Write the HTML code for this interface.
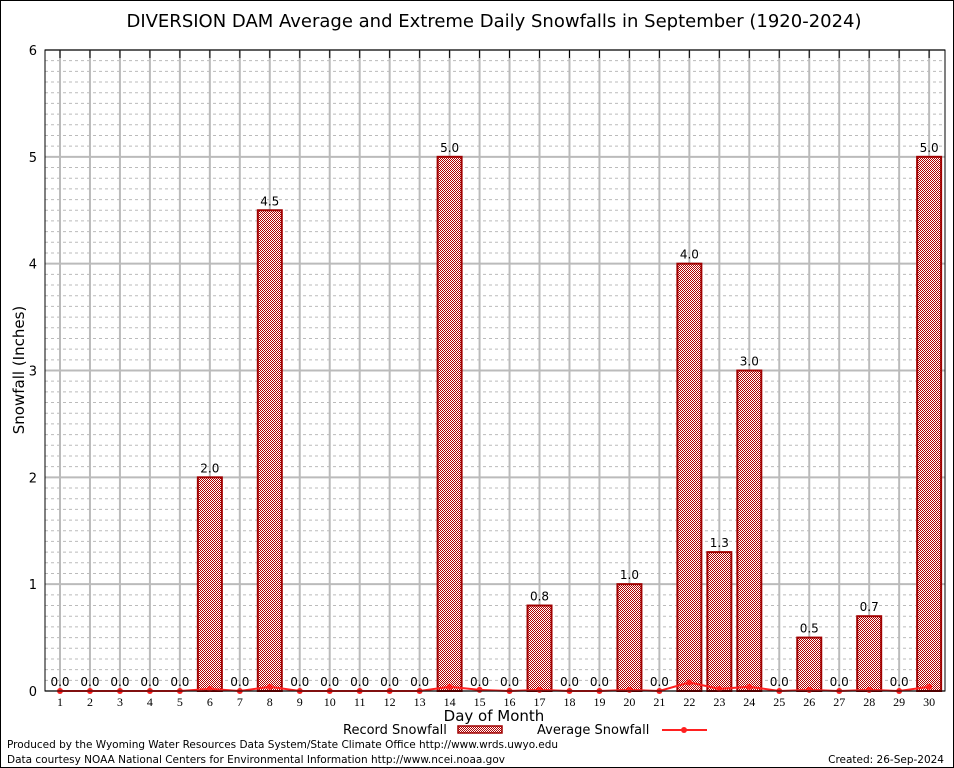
<!DOCTYPE html>
<html><head><meta charset="utf-8"><style>
body{margin:0;background:#fff;}
svg{display:block;font-family:"DejaVu Sans","Liberation Sans",sans-serif;}
</style></head><body>
<svg id="chart" width="954" height="768">
<defs>
<pattern id="chk" width="2" height="2" patternUnits="userSpaceOnUse">
<rect width="2" height="2" fill="#ffffff"/><rect width="1" height="1" fill="#b00000"/><rect x="1" y="1" width="1" height="1" fill="#b00000"/>
</pattern>
</defs>
<rect x="0.5" y="0.5" width="953" height="767" fill="#fff" stroke="#000"/>
<text x="494" y="27" font-size="18" text-anchor="middle">DIVERSION DAM Average and Extreme Daily Snowfalls in September (1920-2024)</text>
<g id="grid"></g>
<g id="bars"></g>
<g id="avg"></g>
<g id="axes"></g>
<text x="24" y="370" font-size="15" text-anchor="middle" transform="rotate(-90 24 370)">Snowfall (Inches)</text>
<text x="494" y="721" font-size="15" text-anchor="middle">Day of Month</text>
<g>
<text x="343" y="734" font-size="13">Record Snowfall</text>
<rect x="458" y="726" width="44" height="7" fill="url(#chk)" stroke="#a00000" stroke-width="1.5"/>
<text x="537" y="734" font-size="13">Average Snowfall</text>
<line x1="662" y1="730" x2="707" y2="730" stroke="#ff2020" stroke-width="2"/>
<circle cx="684" cy="730" r="3" fill="#ff2020"/>
</g>
<text x="7" y="748" font-size="10.5" textLength="551">Produced by the Wyoming Water Resources Data System/State Climate Office http://www.wrds.uwyo.edu</text>
<text x="7" y="763" font-size="10.5" textLength="498">Data courtesy NOAA National Centers for Environmental Information http://www.ncei.noaa.gov</text>
<text x="944" y="763" font-size="10.5" text-anchor="end">Created: 26-Sep-2024</text>
</svg>
<script>
const days=[1,2,3,4,5,6,7,8,9,10,11,12,13,14,15,16,17,18,19,20,21,22,23,24,25,26,27,28,29,30];
const records=[0,0,0,0,0,2.0,0,4.5,0,0,0,0,0,5.0,0,0,0.8,0,0,1.0,0,4.0,1.3,3.0,0,0.5,0,0.7,0,5.0];
const averages=[0,0,0,0,0,0.02,0,0.04,0,0,0,0,0,0.04,0.01,0,0.01,0,0,0.01,0,0.08,0.02,0.04,0,0.01,0,0.01,0,0.04];
const yTicks=[0,1,2,3,4,5,6];
const NS="http://www.w3.org/2000/svg";
const L=45,R=945,T=50,B=691;
const x=d=>60+(d-1)*29.97;
const y=v=>B-(v/6)*(B-T);
function mk(tag,attrs,parent,txt){const e=document.createElementNS(NS,tag);for(const k in attrs)e.setAttribute(k,attrs[k]);if(txt!==undefined)e.textContent=txt;parent.appendChild(e);return e;}
const grid=document.getElementById('grid'),bars=document.getElementById('bars'),avg=document.getElementById('avg'),axes=document.getElementById('axes');
for(let i=1;i<60;i++){if(i%10===0)continue;const l=mk('line',{x1:L,x2:R,y1:y(i/10),y2:y(i/10),stroke:'#bbb','stroke-dasharray':'3,3','stroke-width':1},grid);

}
yTicks.forEach(t=>{const l=mk('line',{x1:L,x2:R,y1:y(t),y2:y(t),stroke:'#bbb','stroke-width':2},grid);


const tx=mk('text',{x:L-8,y:y(t)+5,'font-size':13,'text-anchor':'end'},axes,String(t));

});
days.forEach(d=>{const l=mk('line',{x1:x(d),x2:x(d),y1:T,y2:B,stroke:'#bbb','stroke-width':2},grid);


const tk=mk('line',{x1:x(d),x2:x(d),y1:T,y2:T+8,stroke:'#000','stroke-width':1},axes);


const t=mk('text',{x:x(d),y:B+15,'font-size':12,'text-anchor':'middle','font-family':'Liberation Serif,serif'},axes,String(d));

});
days.forEach((d,i)=>{const v=records[i];
if(v>0){const r=mk('rect',{x:x(d)-12,y:y(v),width:24,height:B-y(v),fill:'url(#chk)',stroke:'#a00000','stroke-width':2},bars);

}
const t=mk('text',{x:x(d),y:y(v)-5,'font-size':12,'text-anchor':'middle'},bars,v.toFixed(1));

});
const pts=days.map((d,i)=>x(d)+','+y(averages[i])).join(' ');
const pl=mk('polyline',{points:pts,fill:'none',stroke:'#ff2020','stroke-width':2},avg);


days.forEach((d,i)=>{const c=mk('circle',{cx:x(d),cy:y(averages[i]),r:3,fill:'#ff2020'},avg);

});
const fr=mk('rect',{x:L,y:T,width:R-L,height:B-T,fill:'none',stroke:'#000','stroke-width':1},axes);


</script>
</body></html>
